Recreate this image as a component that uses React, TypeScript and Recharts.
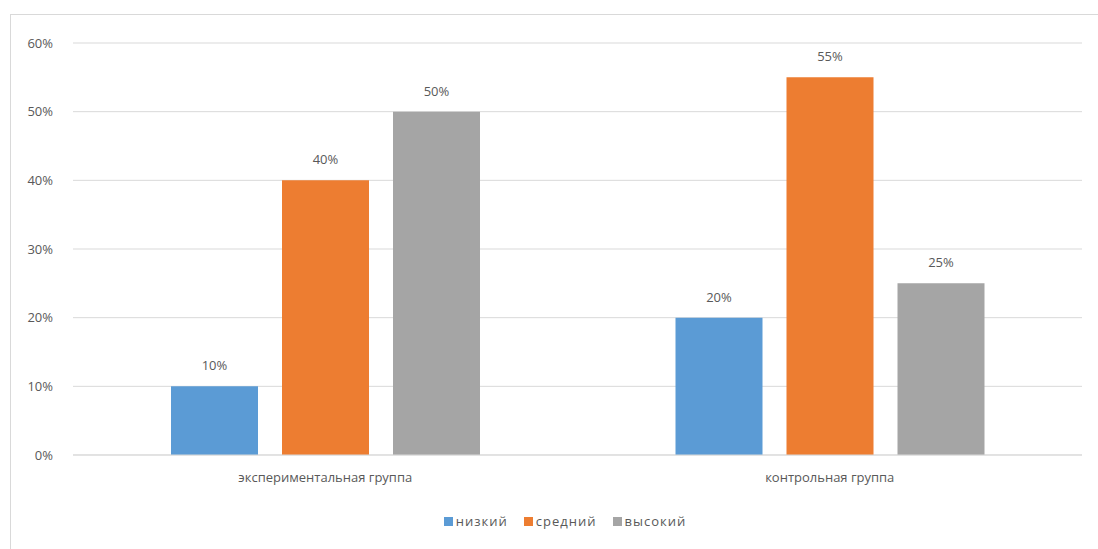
import { BarChart, Bar, XAxis, YAxis, CartesianGrid, LabelList } from 'recharts';

const groups = ['экспериментальная группа', 'контрольная группа'];
const low = [0.1, 0.2];
const mid = [0.4, 0.55];
const high = [0.5, 0.25];
const yTicks = [0, 0.1, 0.2, 0.3, 0.4, 0.5, 0.6];

const series = [
  { key: 'low', name: 'низкий', color: '#5B9BD5' },
  { key: 'mid', name: 'средний', color: '#ED7D31' },
  { key: 'high', name: 'высокий', color: '#A5A5A5' },
];

const data = groups.map((g, i) => ({ group: g, low: low[i], mid: mid[i], high: high[i] }));

const pct = (v: number) => `${Math.round(v * 100)}%`;
const textColor = '#595959';
const font = '"Open Sans", "Liberation Sans", sans-serif';

export default function App() {
  return (
    <div style={{ position: 'absolute', left: 0, top: 0, width: 1098, height: 549, background: '#fff', fontFamily: font, overflow: 'hidden' }}>
      <div
        style={{
          position: 'absolute',
          left: 10,
          top: 14,
          width: 1200,
          height: 600,
          border: '1px solid #d9d9d9',
        }}
      />
      <div style={{ position: 'absolute', left: 0, top: 0 }}>
        <BarChart
          width={1098}
          height={549}
          data={data}
          margin={{ top: 43, right: 16, bottom: 54, left: 0 }}
          barSize={87}
          barGap={24}
        >
          <CartesianGrid vertical={false} stroke="#d9d9d9" />
          <XAxis
            dataKey="group"
            axisLine={{ stroke: '#d9d9d9' }}
            tickLine={false}
            tick={{ fill: textColor, fontSize: 13, fontFamily: font }}
            tickMargin={12}
            height={40}
          />
          <YAxis
            domain={[0, 0.6]}
            ticks={yTicks}
            tickFormatter={pct}
            axisLine={false}
            tickLine={false}
            width={73}
            tick={{ fill: textColor, fontSize: 13, fontFamily: font }}
            tickMargin={14}
          />
          {series.map((s) => (
            <Bar key={s.key} dataKey={s.key} name={s.name} fill={s.color} isAnimationActive={false}>
              <LabelList dataKey={s.key} position="top" offset={16} formatter={pct} fill={textColor} fontSize={13} />
            </Bar>
          ))}
        </BarChart>
      </div>
      <div
        style={{
          position: 'absolute',
          left: 0,
          top: 512,
          width: 1130,
          display: 'flex',
          justifyContent: 'center',
          gap: 16,
          fontSize: 13,
          letterSpacing: 1,
          color: textColor,
        }}
      >
        {series.map((s) => (
          <span key={s.key} style={{ display: 'flex', alignItems: 'center' }}>
            <span style={{ width: 9, height: 9, background: s.color, display: 'inline-block', marginRight: 3 }} />
            {s.name}
          </span>
        ))}
      </div>
    </div>
  );
}
